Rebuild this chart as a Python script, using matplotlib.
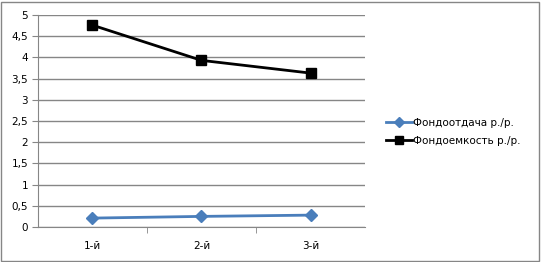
import matplotlib
matplotlib.use('Agg')
import matplotlib.pyplot as plt
from matplotlib.patches import Rectangle

# data
categories = ['1-й', '2-й', '3-й']
fondootdacha = [0.21, 0.25, 0.28]
fondoemkost = [4.76, 3.93, 3.63]
y_ticks = [0, 0.5, 1, 1.5, 2, 2.5, 3, 3.5, 4, 4.5, 5]
y_labels = ['0', '0,5', '1', '1,5', '2', '2,5', '3', '3,5', '4', '4,5', '5']

plt.rcParams['font.family'] = ['DejaVu Sans']

fig = plt.figure(figsize=(5.41, 2.62), dpi=100)
ax = fig.add_axes([0.0702, 0.1336, 0.6045, 0.8091])

x = range(len(categories))
ax.plot(x, fondootdacha, color='#4a7ebb', linewidth=2, marker='D', markersize=6,
        label='Фондоотдача р./р.')
ax.plot(x, fondoemkost, color='black', linewidth=2, marker='s', markersize=7,
        label='Фондоемкость р./р.')

ax.set_xlim(-0.5, len(categories) - 0.5)
ax.set_ylim(0, 5)
ax.set_yticks(y_ticks)
ax.set_yticklabels(y_labels, fontsize=7.5)
ax.set_xticks(list(x))
ax.set_xticklabels(categories, fontsize=7.5)
ax.tick_params(axis='x', length=0, pad=10)
ax.set_xticks([0.5, 1.5], minor=True)
ax.tick_params(axis='x', which='minor', length=4, color='#868686')
ax.tick_params(axis='y', length=4, color='#868686', pad=3)

ax.grid(axis='y', color='#868686', linewidth=1)
ax.set_axisbelow(True)
for side in ['top', 'right']:
    ax.spines[side].set_visible(False)
ax.spines['left'].set_color('#868686')
ax.spines['bottom'].set_color('#868686')

leg = ax.legend(loc='center left', bbox_to_anchor=(1.035, 0.45), frameon=False,
                fontsize=7.5, handlelength=2.5, handletextpad=0.1, labelspacing=0.75,
                markerscale=0.8)

fig.patches.append(Rectangle((0.002, 0.004), 0.995, 0.99, transform=fig.transFigure,
                             fill=False, edgecolor='#868686', linewidth=1))

fig.savefig('out.png', dpi=100)
